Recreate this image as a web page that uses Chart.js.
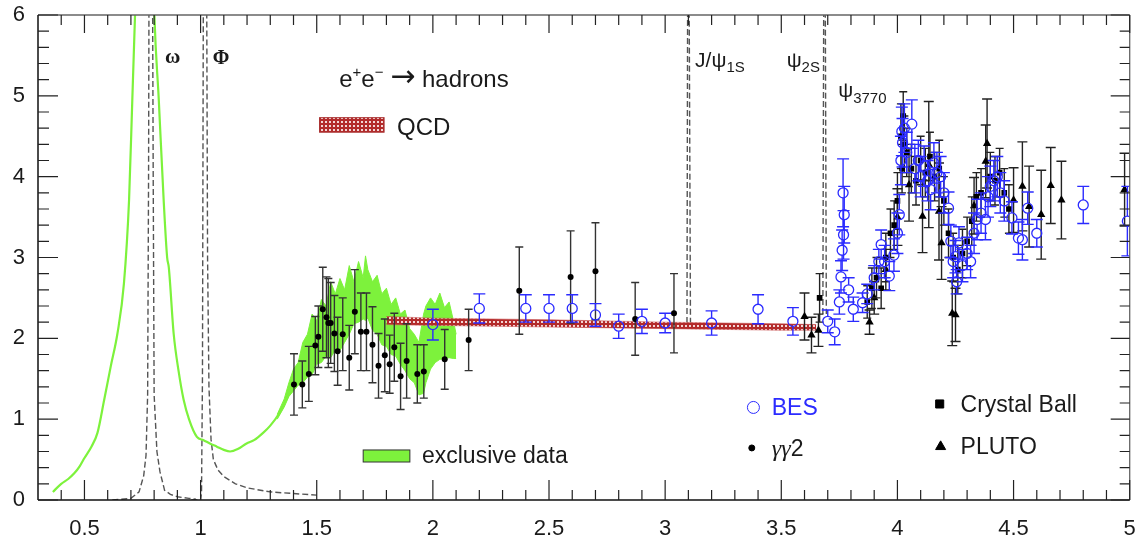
<!DOCTYPE html>
<html>
<head>
<meta charset="utf-8">
<script src="https://cdn.jsdelivr.net/npm/chart.js@4.4.1/dist/chart.umd.min.js"></script>
<style>
  html, body { margin: 0; padding: 0; background: #fff; }
</style>
</head>
<body>
<canvas id="rChart" width="1136" height="535"></canvas>
<script>
// axis ticks
const xTicks = [0.5, 1, 1.5, 2, 2.5, 3, 3.5, 4, 4.5, 5];
const xTickLabels = ['0.5', '1', '1.5', '2', '2.5', '3', '3.5', '4', '4.5', '5'];
const yTicks = [0, 1, 2, 3, 4, 5, 6];
const yTickLabels = ['0', '1', '2', '3', '4', '5', '6'];

// inclusive low-energy curve (rho region)
const lowX = [0.364, 0.40, 0.43, 0.456, 0.48, 0.50, 0.53, 0.556, 0.585, 0.613, 0.642, 0.67, 0.692, 0.706, 0.72, 0.74, 0.76, 0.775, 0.79, 0.80, 0.82, 0.841, 0.856, 0.863, 0.884, 0.905, 0.927, 0.95, 0.984, 1.013, 1.04, 1.07, 1.10, 1.127, 1.16, 1.198, 1.23, 1.269, 1.30, 1.34, 1.37, 1.40];
const lowY = [0.10, 0.20, 0.26, 0.33, 0.42, 0.52, 0.66, 0.83, 1.24, 1.65, 2.06, 2.68, 3.71, 4.95, 6.2, 8.0, 9.0, 9.0, 7.5, 6.1, 4.95, 3.71, 3.0, 2.88, 2.06, 1.6, 1.24, 1.0, 0.78, 0.74, 0.70, 0.66, 0.62, 0.60, 0.63, 0.70, 0.74, 0.83, 0.92, 1.08, 1.25, 1.42];

// exclusive data band
const bandX = [1.33, 1.36, 1.38, 1.40, 1.42, 1.44, 1.46, 1.48, 1.50, 1.52, 1.54, 1.56, 1.58, 1.60, 1.62, 1.64, 1.66, 1.68, 1.70, 1.71, 1.72, 1.74, 1.76, 1.78, 1.80, 1.82, 1.84, 1.86, 1.88, 1.90, 1.92, 1.94, 1.96, 1.97, 1.99, 2.01, 2.03, 2.05, 2.07, 2.09, 2.10];
const bandHi = [1.06, 1.25, 1.45, 1.62, 1.70, 1.95, 2.05, 2.30, 2.22, 2.48, 2.40, 2.70, 2.55, 2.74, 2.60, 2.90, 2.70, 2.95, 2.75, 3.02, 2.85, 2.70, 2.78, 2.55, 2.62, 2.42, 2.50, 2.30, 2.35, 2.12, 2.05, 1.95, 2.30, 2.40, 2.50, 2.42, 2.56, 2.38, 2.45, 2.20, 2.05];
const bandLo = [1.00, 1.15, 1.28, 1.35, 1.42, 1.45, 1.52, 1.55, 1.68, 1.70, 1.78, 1.76, 1.86, 1.85, 1.95, 2.05, 2.18, 2.20, 2.24, 2.22, 2.25, 2.10, 2.05, 1.92, 1.90, 1.80, 1.78, 1.68, 1.60, 1.50, 1.45, 1.30, 1.32, 1.45, 1.62, 1.70, 1.74, 1.75, 1.76, 1.75, 1.75];

// narrow resonances (dashed)
const omegaX = [0.62, 0.70, 0.735, 0.755, 0.765, 0.772, 0.776, 0.778, 0.793, 0.796, 0.80, 0.812, 0.825, 0.845, 0.87, 0.90, 0.95, 0.98];
const omegaY = [0.0, 0.02, 0.10, 0.30, 0.55, 1.30, 4.0, 6.5, 6.5, 4.0, 1.30, 0.60, 0.35, 0.12, 0.07, 0.04, 0.02, 0.01];
const phiX = [0.96, 1.0, 1.004, 1.008, 1.012, 1.026, 1.03, 1.036, 1.045, 1.055, 1.075, 1.10, 1.15, 1.20, 1.30, 1.40, 1.50];
const phiY = [0.0, 0.0, 0.10, 1.5, 6.5, 6.5, 3.0, 1.4, 0.75, 0.50, 0.37, 0.29, 0.20, 0.15, 0.10, 0.08, 0.06];
const jpsiX = [3.094, 3.097, 3.103, 3.109];
const jpsiY = [2.19, 6.5, 6.5, 2.19];
const psi2sX = [3.679, 3.683, 3.689, 3.694];
const psi2sY = [2.30, 6.5, 6.5, 2.30];

// perturbative QCD band
const qcdX = [1.8, 2.0, 2.5, 3.0, 3.5, 3.65];
const qcdHi = [2.27, 2.25, 2.23, 2.20, 2.18, 2.17];
const qcdLo = [2.17, 2.16, 2.14, 2.12, 2.10, 2.10];

// BES
const besX = [2.0, 2.2, 2.4, 2.5, 2.6, 2.7, 2.8, 2.9, 3.0, 3.2, 3.4, 3.55, 3.70, 3.73, 3.75, 3.757, 3.762, 3.768, 3.771, 3.766, 3.79, 3.81, 3.85, 3.87, 3.90, 3.92, 3.93, 3.945, 3.965, 3.985, 4.00, 4.008, 4.015, 4.019, 4.022, 4.03, 4.04, 4.062, 4.075, 4.09, 4.10, 4.115, 4.13, 4.143, 4.157, 4.17, 4.186, 4.20, 4.22, 4.23, 4.24, 4.25, 4.255, 4.265, 4.28, 4.30, 4.315, 4.33, 4.343, 4.36, 4.379, 4.39, 4.40, 4.415, 4.43, 4.443, 4.46, 4.493, 4.521, 4.538, 4.561, 4.60, 4.80, 4.99];
const besY = [2.17, 2.37, 2.37, 2.37, 2.37, 2.29, 2.15, 2.21, 2.19, 2.19, 2.36, 2.21, 2.21, 2.08, 2.45, 2.76, 3.09, 3.28, 3.53, 3.80, 2.60, 2.36, 2.44, 2.55, 2.75, 2.95, 3.16, 2.95, 2.77, 3.03, 3.30, 3.53, 4.20, 4.56, 4.42, 4.60, 4.30, 4.65, 4.10, 4.20, 4.00, 4.13, 3.95, 3.84, 4.17, 4.05, 4.00, 3.80, 3.61, 3.20, 2.95, 3.01, 2.70, 3.18, 2.90, 3.05, 2.95, 3.30, 3.47, 3.55, 3.47, 3.75, 3.88, 3.95, 4.00, 3.80, 3.70, 3.49, 3.24, 3.22, 3.61, 3.30, 3.65, 3.45];
const besErr = [0.19, 0.18, 0.17, 0.17, 0.17, 0.14, 0.15, 0.15, 0.12, 0.15, 0.18, 0.17, 0.14, 0.16, 0.15, 0.20, 0.25, 0.30, 0.35, 0.42, 0.15, 0.15, 0.12, 0.12, 0.15, 0.15, 0.18, 0.20, 0.18, 0.20, 0.25, 0.25, 0.30, 0.30, 0.30, 0.30, 0.25, 0.30, 0.30, 0.25, 0.25, 0.25, 0.25, 0.25, 0.25, 0.25, 0.25, 0.25, 0.20, 0.20, 0.20, 0.20, 0.15, 0.20, 0.20, 0.20, 0.20, 0.25, 0.25, 0.25, 0.25, 0.25, 0.25, 0.25, 0.25, 0.25, 0.25, 0.20, 0.20, 0.25, 0.20, 0.17, 0.23, 0.43];

// gamma gamma 2
const ggX = [1.402, 1.438, 1.466, 1.494, 1.507, 1.526, 1.542, 1.55, 1.56, 1.576, 1.59, 1.612, 1.64, 1.664, 1.69, 1.714, 1.74, 1.766, 1.793, 1.814, 1.834, 1.861, 1.887, 1.933, 1.961, 2.051, 2.154, 2.372, 2.593, 2.70, 2.871, 3.038];
const ggY = [1.43, 1.43, 1.56, 1.91, 2.02, 2.36, 2.26, 2.19, 2.19, 2.06, 1.84, 2.05, 1.76, 2.33, 2.08, 2.08, 1.92, 1.66, 1.79, 1.68, 1.89, 1.53, 1.72, 1.56, 1.59, 1.74, 1.98, 2.59, 2.76, 2.83, 2.24, 2.31];
const ggErr = [0.38, 0.29, 0.34, 0.36, 0.38, 0.52, 0.50, 0.55, 0.50, 0.47, 0.42, 0.45, 0.40, 0.52, 0.48, 0.48, 0.47, 0.40, 0.45, 0.36, 0.42, 0.41, 0.46, 0.36, 0.33, 0.37, 0.38, 0.54, 0.57, 0.60, 0.45, 0.49];

// Crystal Ball
const cbX = [3.665, 3.87, 3.89, 3.91, 3.93, 3.95, 3.97, 3.986, 4.00, 4.015, 4.02, 4.025, 4.03, 4.04, 4.06, 4.08, 4.10, 4.12, 4.14, 4.16, 4.18, 4.20, 4.22, 4.24, 4.26, 4.28, 4.30, 4.32, 4.34, 4.36, 4.40, 4.42, 4.44, 4.46, 4.48];
const cbY = [2.50, 2.45, 2.62, 2.75, 2.62, 3.00, 3.30, 3.40, 3.70, 4.50, 4.10, 4.75, 4.40, 4.30, 4.10, 3.95, 4.20, 4.05, 4.25, 4.00, 4.10, 3.70, 3.30, 3.00, 2.85, 3.05, 3.20, 3.45, 3.75, 3.80, 4.00, 3.95, 4.05, 3.80, 3.60];
const cbErr = [0.30, 0.20, 0.25, 0.25, 0.25, 0.30, 0.30, 0.30, 0.35, 0.40, 0.30, 0.30, 0.35, 0.30, 0.30, 0.30, 0.30, 0.30, 0.30, 0.30, 0.35, 0.30, 0.30, 0.30, 0.30, 0.30, 0.30, 0.30, 0.30, 0.30, 0.30, 0.30, 0.30, 0.30, 0.30];

// PLUTO
const plutoX = [3.60, 3.63, 3.66, 3.88, 3.90, 3.95, 4.00, 4.05, 4.108, 4.135, 4.179, 4.19, 4.236, 4.25, 4.33, 4.38, 4.386, 4.50, 4.538, 4.567, 4.619, 4.66, 4.706, 4.978];
const plutoY = [2.27, 2.04, 2.10, 2.20, 2.50, 2.85, 3.50, 3.90, 3.51, 4.15, 3.57, 3.18, 2.31, 2.29, 3.64, 4.19, 4.41, 3.71, 3.88, 3.63, 3.53, 3.89, 3.71, 3.84];
const plutoErr = [0.29, 0.22, 0.20, 0.15, 0.20, 0.25, 0.35, 0.45, 0.45, 0.78, 0.60, 0.45, 0.40, 0.33, 0.35, 0.45, 0.55, 0.40, 0.55, 0.50, 0.55, 0.47, 0.48, 0.45];

const pts = (xs, ys) => xs.map((x, i) => ({ x, y: ys[i] }));

const canvas = document.getElementById('rChart');
const ctx = canvas.getContext('2d');

// red cross-hatch used for the QCD band
const tile = document.createElement('canvas');
tile.width = 4; tile.height = 4;
const tg = tile.getContext('2d');
tg.fillStyle = '#b32b2b';
tg.fillRect(0, 0, 4, 4);
tg.fillStyle = '#f3d6d6';
tg.fillRect(1, 1, 2, 2);
const qcdPattern = ctx.createPattern(tile, 'repeat');

const GREEN = '#7df23c';
const BLUE = '#2b2bff';
const SANS = '"Liberation Sans", Arial, sans-serif';
const SERIF = '"Liberation Serif", "Times New Roman", serif';

const errorBars = {
  id: 'errorBars',
  beforeDatasetDraw(chart, args) {
    const ds = chart.data.datasets[args.index];
    if (!ds.errors) return;
    const { ctx, chartArea: a, scales: { x, y } } = chart;
    ctx.save();
    ctx.beginPath();
    ctx.rect(a.left, a.top, a.right - a.left, a.bottom - a.top);
    ctx.clip();
    ctx.strokeStyle = ds.errColor;
    ctx.lineWidth = 1.4;
    const gapR = ds.errGap || 0;
    ds.data.forEach((p, i) => {
      const e = ds.errors[i];
      const px = x.getPixelForValue(p.x);
      const py = y.getPixelForValue(p.y);
      const top = y.getPixelForValue(p.y + e);
      const bot = y.getPixelForValue(p.y - e);
      ctx.beginPath();
      if (gapR > 0) {
        if (py - gapR > top) { ctx.moveTo(px, top); ctx.lineTo(px, py - gapR); }
        if (py + gapR < bot) { ctx.moveTo(px, py + gapR); ctx.lineTo(px, bot); }
      } else {
        ctx.moveTo(px, top); ctx.lineTo(px, bot);
      }
      ctx.moveTo(px - ds.cap, top); ctx.lineTo(px + ds.cap, top);
      ctx.moveTo(px - ds.cap, bot); ctx.lineTo(px + ds.cap, bot);
      ctx.stroke();
    });
    ctx.restore();
  }
};

// frame with inward ticks on all four sides
const frame = {
  id: 'frame',
  afterDatasetsDraw(chart) {
    const { ctx, chartArea: a, scales: { x, y } } = chart;
    const seg = (x1, y1, x2, y2) => { ctx.moveTo(x1, y1); ctx.lineTo(x2, y2); };
    ctx.save();
    ctx.lineWidth = 1.3;
    ctx.strokeStyle = '#666';
    ctx.beginPath();
    seg(a.left, a.top, a.right, a.top);
    seg(a.right, a.top, a.right, a.bottom);
    ctx.stroke();
    ctx.strokeStyle = '#111';
    ctx.lineWidth = 1.5;
    ctx.beginPath();
    seg(a.left, a.top, a.left, a.bottom);
    seg(a.left, a.bottom, a.right, a.bottom);
    ctx.stroke();

    ctx.lineWidth = 1.2;
    ctx.strokeStyle = '#222';
    ctx.beginPath();
    for (let i = 0; i < xTicks.length; i++) {
      const px = x.getPixelForValue(xTicks[i]);
      seg(px, a.bottom, px, a.bottom - 20);
      seg(px, a.top, px, a.top + 18);
      const prev = i === 0 ? xTicks[0] - 0.5 : xTicks[i - 1];
      for (let k = 1; k < 5; k++) {
        const v = prev + (xTicks[i] - prev) * k / 5;
        if (v <= x.min) continue;
        const mx = x.getPixelForValue(v);
        seg(mx, a.bottom, mx, a.bottom - 10);
        seg(mx, a.top, mx, a.top + 10);
      }
    }
    for (let i = 0; i < yTicks.length; i++) {
      const py = y.getPixelForValue(yTicks[i]);
      seg(a.left, py, a.left + 20, py);
      seg(a.right, py, a.right - 19, py);
      if (i === 0) continue;
      for (let k = 1; k < 5; k++) {
        const v = yTicks[i - 1] + (yTicks[i] - yTicks[i - 1]) * k / 5;
        const my = y.getPixelForValue(v);
        seg(a.left, my, a.left + 11, my);
        seg(a.right, my, a.right - 10, my);
      }
    }
    ctx.stroke();
    ctx.restore();
  }
};

// labels of resonances, process and legend
const notes = [
  { x: 0.847, y: 5.41, runs: [{ t: 'ω', f: 'bold 21px ' + SERIF }] },
  { x: 1.052, y: 5.39, runs: [{ t: 'Φ', f: 'bold 20px ' + SERIF }] },
  { x: 1.597, y: 5.11, runs: [
    { t: 'e', f: '24px ' + SANS }, { t: '+', f: '15px ' + SANS, dy: -10 },
    { t: 'e', f: '24px ' + SANS }, { t: '−', f: '15px ' + SANS, dy: -10 },
    { t: ' ', f: '24px ' + SANS }, { t: '→', f: '30px "DejaVu Sans", ' + SANS, dy: -1 },
    { t: ' hadrons', f: '24px ' + SANS }] },
  { x: 1.846, y: 4.52, runs: [{ t: 'QCD', f: '24px ' + SANS }] },
  { x: 3.129, y: 5.36, runs: [{ t: 'J/ψ', f: '21px ' + SANS }, { t: '1S', f: '15px ' + SANS, dy: 5 }] },
  { x: 3.523, y: 5.36, runs: [{ t: 'ψ', f: '21px ' + SANS }, { t: '2S', f: '15px ' + SANS, dy: 5 }] },
  { x: 3.745, y: 4.99, runs: [{ t: 'ψ', f: '21px ' + SANS }, { t: '3770', f: '15px ' + SANS, dy: 6 }] },
  { x: 1.953, y: 0.46, runs: [{ t: 'exclusive data', f: '23px ' + SANS }] },
  { x: 3.459, y: 1.05, color: BLUE, runs: [{ t: 'BES', f: '23px ' + SANS }] },
  { x: 3.459, y: 0.55, runs: [{ t: 'γγ', f: 'italic 24px ' + SERIF }, { t: '2', f: '23px ' + SANS }] },
  { x: 4.272, y: 1.093, runs: [{ t: 'Crystal Ball', f: '23px ' + SANS }] },
  { x: 4.272, y: 0.569, runs: [{ t: 'PLUTO', f: '23px ' + SANS }] }
];

const legendMarks = [
  { x: 3.38, y: 1.145, style: 'circle', r: 6, fill: 'rgba(0,0,0,0)', stroke: BLUE },
  { x: 3.373, y: 0.644, style: 'circle', r: 3, fill: '#000', stroke: '#000' },
  { x: 4.182, y: 1.188, style: 'rect', r: 5.7, fill: '#000', stroke: '#000' },
  { x: 4.186, y: 0.66, style: 'triangle', r: 5.8, fill: '#000', stroke: '#000' }
];

const annotations = {
  id: 'annotations',
  afterDraw(chart) {
    const { ctx, scales: { x, y } } = chart;
    ctx.save();
    // QCD swatch
    const q0 = x.getPixelForValue(1.512), q1 = x.getPixelForValue(1.79);
    const qt = y.getPixelForValue(4.73), qb = y.getPixelForValue(4.55);
    ctx.fillStyle = qcdPattern;
    ctx.fillRect(q0, qt, q1 - q0, qb - qt);
    ctx.strokeStyle = '#a33';
    ctx.lineWidth = 1;
    ctx.strokeRect(q0, qt, q1 - q0, qb - qt);
    // exclusive data swatch
    const g0 = x.getPixelForValue(1.70), g1 = x.getPixelForValue(1.901);
    const gt = y.getPixelForValue(0.619), gb = y.getPixelForValue(0.47);
    ctx.fillStyle = GREEN;
    ctx.fillRect(g0, gt, g1 - g0, gb - gt);
    ctx.strokeStyle = '#333';
    ctx.strokeRect(g0, gt, g1 - g0, gb - gt);

    legendMarks.forEach(m => {
      ctx.fillStyle = m.fill;
      ctx.strokeStyle = m.stroke;
      Chart.helpers.drawPoint(ctx, { pointStyle: m.style, radius: m.r, rotation: 0, borderWidth: 1.5 },
        x.getPixelForValue(m.x), y.getPixelForValue(m.y));
    });

    ctx.textBaseline = 'alphabetic';
    notes.forEach(n => {
      let cx = x.getPixelForValue(n.x);
      const by = y.getPixelForValue(n.y);
      ctx.fillStyle = n.color || '#1a1a1a';
      n.runs.forEach(r => {
        ctx.font = r.f;
        ctx.fillText(r.t, cx, by + (r.dy || 0));
        cx += ctx.measureText(r.t).width;
      });
    });
    ctx.restore();
  }
};

const dashed = (xs, ys) => ({
  data: pts(xs, ys), showLine: true, pointRadius: 0, borderColor: '#555',
  borderWidth: 1.4, borderDash: [6, 3], fill: false
});

new Chart(ctx, {
  type: 'line',
  data: {
    datasets: [
      { label: 'BES', data: pts(besX, besY), errors: besErr, errColor: BLUE, cap: 6, errGap: 5,
        showLine: false, pointStyle: 'circle', pointRadius: 5, pointBorderWidth: 1.3,
        pointBorderColor: BLUE, pointBackgroundColor: 'rgba(0,0,0,0)' },
      { label: 'Crystal Ball', data: pts(cbX, cbY), errors: cbErr, errColor: '#222', cap: 4,
        showLine: false, pointStyle: 'rect', pointRadius: 4, pointBorderWidth: 0,
        pointBackgroundColor: '#000' },
      { label: 'PLUTO', data: pts(plutoX, plutoY), errors: plutoErr, errColor: '#222', cap: 5,
        showLine: false, pointStyle: 'triangle', pointRadius: 4.8, pointBorderWidth: 0,
        pointBackgroundColor: '#000' },
      { label: 'γγ2', data: pts(ggX, ggY), errors: ggErr, errColor: '#333', cap: 4,
        showLine: false, pointStyle: 'circle', pointRadius: 3, pointBorderWidth: 0,
        pointBackgroundColor: '#000' },
      { label: 'QCD hi', data: pts(qcdX, qcdHi), showLine: true, pointRadius: 0,
        borderColor: 'rgba(200,80,80,0.55)', borderWidth: 1, fill: false },
      { label: 'QCD', data: pts(qcdX, qcdLo), showLine: true, pointRadius: 0,
        borderColor: 'rgba(200,80,80,0.55)', borderWidth: 1, fill: '-1', backgroundColor: qcdPattern },
      { label: 'exclusive hi', data: pts(bandX, bandHi), showLine: true, pointRadius: 0,
        borderColor: GREEN, borderWidth: 1, fill: false },
      { label: 'exclusive data', data: pts(bandX, bandLo), showLine: true, pointRadius: 0,
        borderColor: GREEN, borderWidth: 1, fill: '-1', backgroundColor: GREEN },
      { label: 'inclusive', data: pts(lowX, lowY), showLine: true, pointRadius: 0,
        borderColor: GREEN, borderWidth: 2.2, fill: false, cubicInterpolationMode: 'monotone' },
      dashed(omegaX, omegaY),
      dashed(phiX, phiY),
      dashed(jpsiX, jpsiY),
      dashed(psi2sX, psi2sY)
    ]
  },
  options: {
    responsive: false,
    animation: false,
    events: [],
    layout: { padding: { top: 15, right: 1, left: 0, bottom: 0 } },
    plugins: { legend: { display: false }, tooltip: { enabled: false } },
    scales: {
      x: {
        type: 'linear', min: 0.3, max: 5,
        grid: { display: false, drawTicks: false },
        border: { display: false },
        afterBuildTicks: s => { s.ticks = xTicks.map(v => ({ value: v })); },
        afterFit: s => { s.height = 35; s.paddingLeft = 0; s.paddingRight = 0; },
        ticks: {
          callback: (v, i) => xTickLabels[i], autoSkip: false, maxRotation: 0,
          padding: 16, color: '#1a1a1a', font: { family: SANS, size: 22 }
        }
      },
      y: {
        type: 'linear', min: 0, max: 6,
        grid: { display: false, drawTicks: false },
        border: { display: false },
        afterBuildTicks: s => { s.ticks = yTicks.map(v => ({ value: v })); },
        afterFit: s => { s.width = 38; s.paddingTop = 0; s.paddingBottom = 0; },
        ticks: {
          callback: (v, i) => yTickLabels[i], autoSkip: false,
          padding: 13, color: '#1a1a1a', font: { family: SANS, size: 22 }
        }
      }
    }
  },
  plugins: [errorBars, frame, annotations]
});
</script>
</body>
</html>
